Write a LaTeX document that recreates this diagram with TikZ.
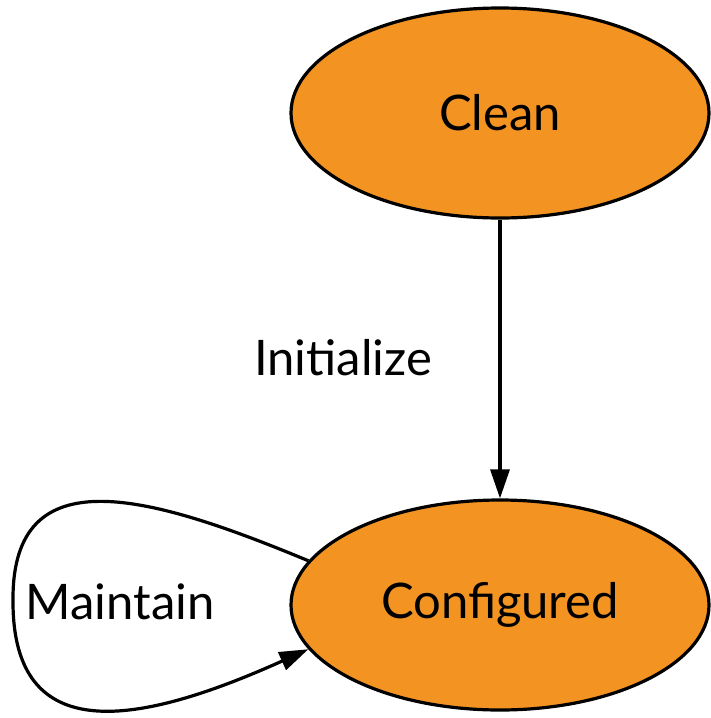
\documentclass[tikz,border=0pt]{standalone}
\usepackage{fontspec}
\setmainfont{Lato}
\usetikzlibrary{shapes.geometric,arrows.meta}
\definecolor{stateorange}{HTML}{F39322}
\tikzset{
  state/.style={ellipse, draw=black, line width=3.2pt, fill=stateorange,
    minimum width=418pt, minimum height=210pt, inner sep=0pt,
    font=\fontsize{49}{56}\selectfont},
  conn/.style={draw=black, line width=3.2pt, -{Triangle[length=29pt,width=19pt]}},
  lbl/.style={font=\fontsize{49}{56}\selectfont, inner sep=0pt}
}
\begin{document}
\begin{tikzpicture}[x=1pt,y=-1pt]
\useasboundingbox (0,0) rectangle (710,718);
\node[state] (clean) at (500,113) {Clean};
\node[state] (conf) at (500,605) {Configured};
\draw[conn] (clean.south) -- (conf.north);
\node[lbl] (init) at (343,358) {Initialize};
\draw[conn] (conf.167) .. controls (150,495) and (12,455) .. (13,600)
  .. controls (12,750) and (140,725) .. (conf.193);
\node[lbl] (maint) at (120,602) {Maintain};
\end{tikzpicture}
\end{document}
